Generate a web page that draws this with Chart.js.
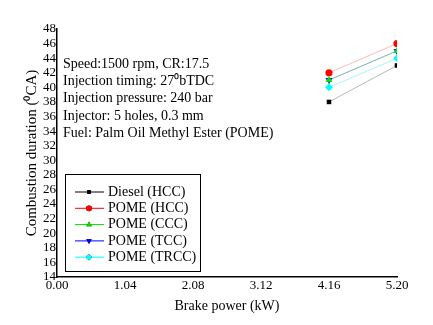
<!DOCTYPE html>
<html>
<head>
<meta charset="utf-8">
<title>Combustion duration</title>
<script src="https://cdn.jsdelivr.net/npm/chart.js"></script>
<style>
    body { margin: 0; background: #fff; }
    #wrap { width: 433px; height: 325px; }
</style>
</head>
<body>
<div id="wrap"><canvas id="chart"></canvas></div>
<script>
    // data
    var power = [4.16, 5.20];
    var dieselHCC = [38, 43];
    var pomeHCC = [42, 46];
    var pomeCCC = [41, 45];
    var pomeTCC = [41, 45];
    var pomeTRCC = [40, 44];
    var xTicks = [0, 1.04, 2.08, 3.12, 4.16, 5.20];
    var yTicks = [14, 16, 18, 20, 22, 24, 26, 28, 30, 32, 34, 36, 38, 40, 42, 44, 46, 48];
    var notes = [
        'Speed:1500 rpm, CR:17.5',
        'Injection timing: 27\u2070bTDC',
        'Injection pressure: 240 bar',
        'Injector: 5 holes, 0.3 mm',
        'Fuel: Palm Oil Methyl Ester (POME)'
    ];

    var serif = '"Liberation Serif", "Times New Roman", serif';

    function pts(vals) {
        return power.map(function (x, i) { return { x: x, y: vals[i] }; });
    }

    function series(label, vals, color, fade, shape, size, rot) {
        return {
            label: label,
            data: pts(vals),
            borderColor: fade,
            borderWidth: 1,
            backgroundColor: color,
            pointBorderColor: color,
            pointBackgroundColor: color,
            pointStyle: shape,
            pointRadius: size,
            pointRotation: rot || 0,
            pointBorderWidth: 0,
            legendColor: color
        };
    }

    var datasets = [
        series('Diesel (HCC)', dieselHCC, '#000000', 'rgba(0,0,0,0.28)', 'rect', 3.2),
        series('POME (HCC)', pomeHCC, '#ff0000', 'rgba(255,0,0,0.28)', 'circle', 3.6),
        series('POME (CCC)', pomeCCC, '#00dd00', 'rgba(0,200,0,0.3)', 'triangle', 4),
        series('POME (TCC)', pomeTCC, '#0000ff', 'rgba(0,0,255,0.3)', 'triangle', 4, 180),
        series('POME (TRCC)', pomeTRCC, '#00ffff', 'rgba(0,220,255,0.35)', 'rectRot', 4)
    ];

    // text block inside the plot + boxed legend
    var extras = {
        id: 'extras',
        afterDraw: function (chart) {
            var ctx = chart.ctx;
            ctx.save();
            ctx.fillStyle = '#000';
            ctx.font = '14px ' + serif;
            ctx.textAlign = 'left';
            ctx.textBaseline = 'middle';
            notes.forEach(function (t, i) {
                ctx.fillText(t, 63, 64 + i * 17.3);
            });

            // legend box
            ctx.strokeStyle = '#000';
            ctx.lineWidth = 1;
            ctx.strokeRect(65.5, 174.5, 135, 97);
            chart.data.datasets.forEach(function (ds, i) {
                var y = 192 + i * 16.3;
                ctx.strokeStyle = ds.legendColor;
                ctx.beginPath();
                ctx.moveTo(75, y);
                ctx.lineTo(104, y);
                ctx.stroke();
                Chart.helpers.drawPoint(ctx, {
                    pointStyle: ds.pointStyle,
                    radius: ds.pointRadius * 0.8,
                    rotation: ds.pointRotation,
                    borderWidth: 0
                }, 89, y);
                ctx.fillStyle = ds.legendColor;
                ctx.fill();
                ctx.fillStyle = '#000';
                ctx.fillText(ds.label, 108, y);
            });
            ctx.restore();
        }
    };

    new Chart(document.getElementById('chart'), {
        type: 'line',
        data: { datasets: datasets },
        options: {
            responsive: true,
            maintainAspectRatio: false,
            animation: false,
            layout: { padding: { left: 23, right: 36, top: 29, bottom: 4 } },
            plugins: { legend: { display: false }, tooltip: { enabled: false } },
            scales: {
                x: {
                    type: 'linear',
                    min: 0,
                    max: 5.2,
                    afterBuildTicks: function (s) { s.ticks = xTicks.map(function (v) { return { value: v }; }); },
                    afterFit: function (s) { s.height = 44; },
                    grid: { display: false, drawTicks: false },
                    border: { display: true, color: '#000', width: 1.5 },
                    ticks: {
                        color: '#000', padding: 1, maxRotation: 0, autoSkip: false,
                        font: { family: serif, size: 13 },
                        callback: function (v) { return Number(v).toFixed(2); }
                    },
                    title: {
                        display: true, text: 'Brake power (kW)', color: '#000',
                        font: { family: serif, size: 14 }, padding: { top: 0, bottom: 6 }
                    }
                },
                y: {
                    min: 14,
                    max: 48,
                    afterBuildTicks: function (s) { s.ticks = yTicks.map(function (v) { return { value: v }; }); },
                    afterFit: function (s) { s.width = 34; },
                    grid: { display: false, drawTicks: false },
                    border: { display: true, color: '#000', width: 1.5 },
                    ticks: { color: '#000', padding: 1, autoSkip: false, font: { family: serif, size: 13 } },
                    title: {
                        display: true, text: 'Combustion duration (\u2070CA)', color: '#000',
                        font: { family: serif, size: 15 }, padding: { top: 0, bottom: 0 }
                    }
                }
            }
        },
        plugins: [extras]
    });
</script>
</body>
</html>
